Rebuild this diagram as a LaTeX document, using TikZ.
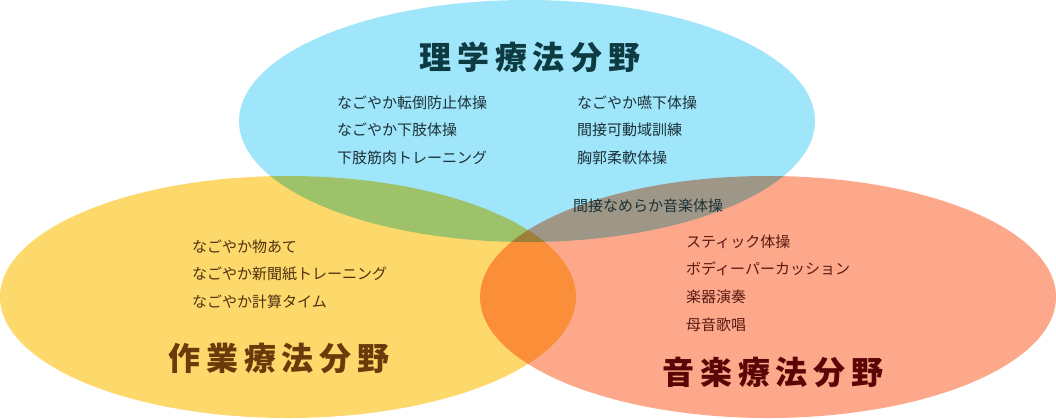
\documentclass[tikz,border=0pt]{standalone}
\usepackage{fontspec}
\newfontfamily\jp{Noto Sans CJK JP}
\newfontfamily\jptitle[LetterSpace=18]{Noto Sans CJK JP}
\usepackage{xcolor}
\usetikzlibrary{positioning}

\definecolor{ptfill}{HTML}{A0E6FB}
\definecolor{otfill}{HTML}{FDD86B}
\definecolor{mtfill}{HTML}{FDA88A}
\definecolor{pttext}{HTML}{0E3A42}
\definecolor{ottext}{HTML}{6A3A0A}
\definecolor{mttext}{HTML}{5A0606}
\definecolor{ptitem}{HTML}{1C3036}
\definecolor{otitem}{HTML}{4E3212}
\definecolor{mtitem}{HTML}{5A1A12}

\begin{document}
\begin{tikzpicture}[
  x=1pt, y=-1pt,
  node distance=13.5pt,
  field/.style={x radius=288, y radius=121},
  title/.style={inner sep=0, font=\jptitle\bfseries\fontsize{32}{32}\selectfont},
  item/.style={anchor=west, inner sep=0, text height=11pt, text depth=3pt, font=\jp\fontsize{15}{15}\selectfont}
]
\useasboundingbox (0,0) rectangle (1056,418);

% three fields, overlaps by multiply
\begin{scope}[blend group=multiply]
  \fill[ptfill] (527,121) ellipse [field];
  \fill[otfill] (288,297) ellipse [field];
  \fill[mtfill] (768,297) ellipse [field];
\end{scope}

% titles
\node[title, text=pttext] (pt) at (530,57) {理学療法分野};
\node[title, text=ottext] (ot) at (279,358) {作業療法分野};
\node[title, text=mttext] (mt) at (773,372) {音楽療法分野};

% physical therapy
\node[item, text=ptitem] (pt1) at (337,104) {なごやか転倒防止体操};
\node[item, text=ptitem, below=of pt1.south west, anchor=north west] (pt2) {なごやか下肢体操};
\node[item, text=ptitem, below=of pt2.south west, anchor=north west] (pt3) {下肢筋肉トレーニング};
\node[item, text=ptitem] (pt4) at (577,104) {なごやか嚥下体操};
\node[item, text=ptitem, below=of pt4.south west, anchor=north west] (pt5) {間接可動域訓練};
\node[item, text=ptitem, below=of pt5.south west, anchor=north west] (pt6) {胸郭柔軟体操};

% shared
\node[item, text=ptitem] (pm1) at (573,207) {間接なめらか音楽体操};

% occupational therapy
\node[item, text=otitem] (ot1) at (192,248) {なごやか物あて};
\node[item, text=otitem, below=of ot1.south west, anchor=north west] (ot2) {なごやか新聞紙トレーニング};
\node[item, text=otitem, below=of ot2.south west, anchor=north west] (ot3) {なごやか計算タイム};

% music therapy
\node[item, text=mtitem] (mt1) at (686,243) {スティック体操};
\node[item, text=mtitem, below=of mt1.south west, anchor=north west] (mt2) {ボディーパーカッション};
\node[item, text=mtitem, below=of mt2.south west, anchor=north west] (mt3) {楽器演奏};
\node[item, text=mtitem, below=of mt3.south west, anchor=north west] (mt4) {母音歌唱};
\end{tikzpicture}
\end{document}
